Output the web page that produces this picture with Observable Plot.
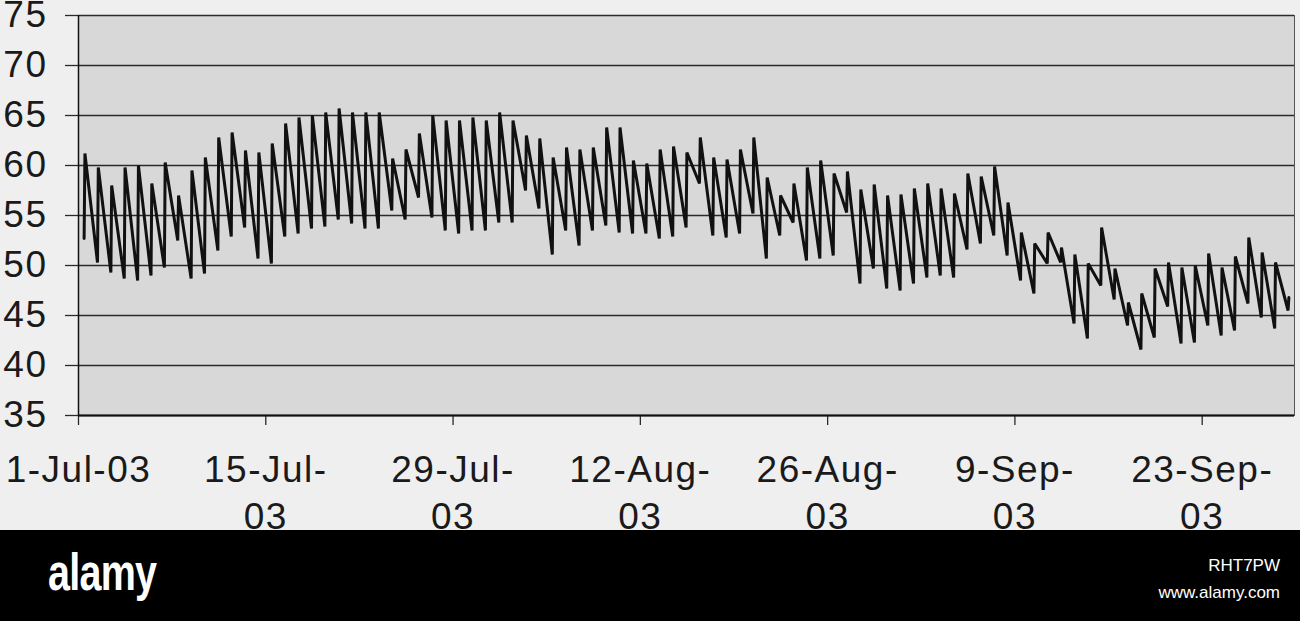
<!DOCTYPE html>
<html>
<head>
<meta charset="utf-8">
<script src="https://cdn.jsdelivr.net/npm/d3@7"></script>
<script src="https://cdn.jsdelivr.net/npm/@observablehq/plot@0.6"></script>
<style>
  html, body { margin: 0; padding: 0; background: #efefef; width: 1300px; height: 621px; overflow: hidden; }
  #chart { height: 530px; }
  #chart svg text { letter-spacing: 1.5px; }
  #footer { position: relative; height: 91px; background: #000; color: #fff; font-family: "Liberation Sans", Arial, sans-serif; }
  #logo { position: absolute; left: 48px; top: 12px; font-size: 52px; font-weight: bold; letter-spacing: -1px; transform: scaleX(0.76); transform-origin: left center; }
  #imgid { position: absolute; right: 20px; top: 22px; font-size: 17px; text-align: right; line-height: 27px; }
</style>
</head>
<body>
<div id="chart"></div>
<div id="footer"><div id="logo">alamy</div><div id="imgid">RHT7PW<br>www.alamy.com</div></div>
<script>
// Daily readings starting 1-Jul-03: low then high each day
const startDate = "2003-07-01";
const lows = [52.7, 50.3, 49.3, 48.7, 48.5, 49.0, 49.8, 52.5, 48.7, 49.2,
              51.5, 52.9, 53.8, 50.7, 50.2, 52.9, 53.2, 53.7, 53.9, 54.6,
              54.2, 53.7, 53.7, 55.5, 54.6, 56.8, 54.8, 53.5, 53.2, 53.5,
              53.5, 54.3, 54.3, 57.5, 55.7, 51.1, 53.5, 52.0, 53.5, 54.0,
              53.3, 53.2, 53.2, 52.7, 52.9, 53.8, 58.2, 53.0, 52.8, 53.2,
              55.2, 50.7, 53.0, 54.3, 50.5, 50.7, 51.0, 55.3, 48.2, 49.7,
              47.7, 47.5, 48.2, 48.8, 49.0, 48.8, 51.6, 52.2, 53.0, 51.0,
              48.5, 47.2, 50.2, 50.3, 44.2, 42.7, 48.0, 46.6, 44.0, 41.6,
              42.8, 45.9, 42.2, 42.3, 44.0, 43.0, 43.5, 46.2, 44.8, 43.7,
              45.5];
const highs = [61.2, 59.8, 58.0, 59.8, 60.0, 58.2, 60.3, 57.0, 59.5, 60.8,
               62.8, 63.3, 61.5, 61.3, 62.2, 64.2, 64.8, 65.0, 65.3, 65.7,
               65.3, 65.3, 65.3, 60.7, 61.6, 63.2, 65.0, 64.5, 64.5, 64.8,
               64.5, 65.3, 64.5, 63.0, 62.7, 60.8, 61.8, 61.6, 61.8, 63.8,
               63.8, 60.5, 60.2, 61.6, 61.9, 61.3, 62.8, 60.8, 60.6, 61.6,
               62.8, 58.8, 57.0, 58.2, 59.8, 60.5, 59.2, 59.4, 57.6, 58.1,
               57.0, 57.1, 57.7, 58.2, 57.7, 57.2, 59.2, 58.9, 59.9, 56.3,
               53.3, 52.2, 53.3, 51.8, 51.1, 50.2, 53.8, 49.7, 46.3, 47.2,
               49.7, 50.3, 49.8, 50.0, 51.2, 49.8, 50.9, 52.8, 51.3, 50.3,
               46.8];
const yTicks = [35, 40, 45, 50, 55, 60, 65, 70, 75];
const xTickDates = ["2003-07-01", "2003-07-15", "2003-07-29", "2003-08-12", "2003-08-26", "2003-09-09", "2003-09-23"];
const xTickLabels = ["1-Jul-03", "15-Jul-\n03", "29-Jul-\n03", "12-Aug-\n03", "26-Aug-\n03", "9-Sep-\n03", "23-Sep-\n03"];

const DAY = 864e5;
const t0 = new Date(startDate + "T00:00:00Z").getTime();
const series = [];
lows.forEach((lo, i) => {
  series.push({date: new Date(t0 + (i + 0.42) * DAY), value: lo});
  series.push({date: new Date(t0 + (i + 0.48) * DAY), value: highs[i]});
});
const ticks = xTickDates.map(d => new Date(d + "T00:00:00Z"));
const xStart = new Date(t0);
const xEnd = new Date(t0 + 90.9 * DAY);

const chart = Plot.plot({
  width: 1300,
  height: 530,
  marginLeft: 78,
  marginRight: 6,
  marginTop: 15,
  marginBottom: 115,
  style: {background: "#efefef", fontFamily: "'Liberation Sans', Arial, sans-serif", color: "#1a1a1a", overflow: "visible"},
  x: {type: "utc", domain: [xStart, xEnd], label: null},
  y: {domain: [35, 75], label: null},
  marks: [
    Plot.frame({fill: "#d8d8d8", stroke: "#555", strokeWidth: 1}),
    Plot.ruleY(yTicks, {stroke: "#2a2a2a", strokeWidth: 1.3}),
    Plot.axisY({ticks: yTicks, tickSize: 13, tickPadding: 18, fontSize: 37, label: null, stroke: "#2a2a2a", strokeWidth: 1.3}),
    Plot.axisX({ticks: ticks, tickSize: 10, tickPadding: 23, fontSize: 37, lineHeight: 1.27, label: null,
                tickFormat: (d, i) => xTickLabels[i], stroke: "#2a2a2a", strokeWidth: 1.3}),
    Plot.ruleX([xStart], {stroke: "#111", strokeWidth: 1.5}),
    Plot.ruleY([35], {stroke: "#111", strokeWidth: 1.8}),
    Plot.line(series, {x: "date", y: "value", stroke: "#111", strokeWidth: 3, strokeLinejoin: "miter"})
  ]
});
document.getElementById("chart").appendChild(chart);
</script>
</body>
</html>
